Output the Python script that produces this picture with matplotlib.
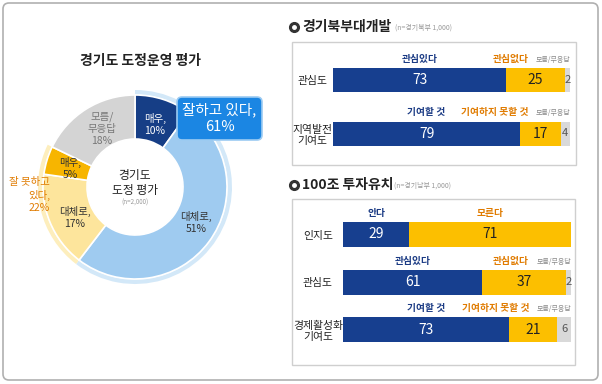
import matplotlib
matplotlib.use("Agg")
import matplotlib.pyplot as plt
from matplotlib.patches import FancyBboxPatch, Rectangle
import numpy as np

plt.rcParams['font.family'] = ['Noto Sans CJK KR', 'DejaVu Sans']

# ---------------- data ----------------
donut_labels = ["매우,\n10%", "대체로,\n51%", "대체로,\n17%", "매우,\n5%", "모름/\n무응답\n18%"]
donut_values = [10, 51, 17, 5, 18]
donut_groups = [2, 2, 1]          # 잘하고 있다(2 slices), 잘 못하고 있다(2), 모름(1)

north_cats = ["관심도", "지역발전\n기여도"]
north_pos = [73, 79]
north_neg = [25, 17]
north_dk = [2, 4]
north_pos_lbl = ["관심있다", "기여할 것"]
north_neg_lbl = ["관심없다", "기여하지 못할 것"]

south_cats = ["인지도", "관심도", "경제활성화\n기여도"]
south_pos = [29, 61, 73]
south_neg = [71, 37, 21]
south_dk = [0, 2, 6]
south_pos_lbl = ["안다", "관심있다", "기여할 것"]
south_neg_lbl = ["모른다", "관심없다", "기여하지 못할 것"]

NAVY = "#173f8f"
YEL = "#fcbf00"
GRAY = "#d9d9d9"
NAVY_T = "#1b3b84"
ORANGE_T = "#e07b00"

W, H = 602, 384
fig = plt.figure(figsize=(W / 100, H / 100), dpi=100)
bg = fig.add_axes([0, 0, 1, 1])
bg.set_xlim(0, W)
bg.set_ylim(H, 0)
bg.axis('off')

# outer frame
bg.add_patch(FancyBboxPatch((3, 3), 595, 377, boxstyle="round,pad=0,rounding_size=6",
                            fc="white", ec="#b0b0b0", lw=1.2))
# panels
bg.add_patch(Rectangle((292, 42), 284, 123, fc="white", ec="#cfcfcf", lw=1))
bg.add_patch(Rectangle((292, 199), 283, 166, fc="white", ec="#cfcfcf", lw=1))

# titles
bg.text(140, 61, "경기도 도정운영 평가", ha="center", va="center", fontsize=10,
        fontweight="bold", color="#222222")

for y, title, sub, subx in [(27, "경기북부대개발", "(n=경기북부 1,000)", 395),
                             (185, "100조 투자유치", "(n=경기남부 1,000)", 394)]:
    bg.plot([294], [y], marker="o", ms=7, color="#333333")
    bg.plot([294], [y], marker="o", ms=2.5, color="white")
    bg.text(302, y, title, ha="left", va="center", fontsize=10, fontweight="bold", color="#222222")
    bg.text(subx, y + 1, sub, ha="left", va="center", fontsize=5, color="#999999")

# ---------------- donut ----------------
pax = fig.add_axes([35 / W, 1 - 287 / H, 200 / W, 200 / H])
donut_colors = ["#163e86", "#9fcbf0", "#fde59c", "#f7b500", "#d4d4d4"]
group_vals = []
i = 0
for g in donut_groups:
    group_vals.append(sum(donut_values[i:i + g]))
    i += g
pax.pie(group_vals, radius=97, startangle=90, counterclock=False,
        colors=["#d3e8f8", "#fdeebd", "none"],
        wedgeprops=dict(width=4.5, edgecolor="none"))
pax.pie(donut_values, radius=92, startangle=90, counterclock=False,
        colors=donut_colors,
        wedgeprops=dict(width=44, edgecolor="white", linewidth=1.2))
pax.set_xlim(-100, 100)
pax.set_ylim(-100, 100)
pax.set_aspect("equal")
pax.axis("off")


# ---------------- bars ----------------
def bar_panel(rect, cats, pos, neg, dk, pos_lbl, neg_lbl, ylim, bh, pad, neg_off):
    ax = fig.add_axes(rect)
    n = len(cats)
    yy = np.arange(n)
    pos = np.array(pos, float)
    neg = np.array(neg, float)
    dk = np.array(dk, float)
    ax.barh(yy, pos, height=bh, color=NAVY)
    ax.barh(yy, neg, left=pos, height=bh, color=YEL)
    ax.barh(yy, dk, left=pos + neg, height=bh, color=GRAY)
    ax.set_xlim(0, 100)
    ax.set_ylim(*ylim)
    for s in ax.spines.values():
        s.set_visible(False)
    ax.set_xticks([])
    ax.set_yticks(yy)
    ax.set_yticklabels(cats, fontsize=7.8, color="#222222")
    ax.tick_params(axis="y", length=0, pad=pad)
    for lab in ax.get_yticklabels():
        lab.set_ha("center")
        lab.set_multialignment("center")
    ax.patch.set_alpha(0)
    top = -bh / 2
    for i in range(n):
        ax.text(pos[i] / 2, i, f"{int(pos[i])}", ha="center", va="center",
                fontsize=10, color="white")
        ax.text(pos[i] + neg[i] / 2, i, f"{int(neg[i])}", ha="center", va="center",
                fontsize=10, color="#222222")
        ax.text(pos[i] / 2, i + top - 0.08, pos_lbl[i], ha="center", va="bottom",
                fontsize=7, fontweight="bold", color=NAVY_T)
        if dk[i] > 0:
            ax.text(pos[i] + neg[i] + dk[i] / 2, i, f"{int(dk[i])}", ha="center",
                    va="center", fontsize=8, color="#555555")
            ax.text(100, i + top - 0.08, "모름/무응답", ha="right", va="bottom",
                    fontsize=5, color="#888888")
            ax.text(100 - neg_off, i + top - 0.08, neg_lbl[i], ha="right", va="bottom",
                    fontsize=7, fontweight="bold", color=ORANGE_T)
        else:
            ax.text(pos[i] + neg[i] / 2, i + top - 0.08, neg_lbl[i], ha="center",
                    va="bottom", fontsize=7, fontweight="bold", color=ORANGE_T)
    return ax


# panel 1: rows at y=80, 133.5 (spacing 53.5)
sp1 = 53.5
top1 = 80 - 0.6 * sp1
h1 = 2.2 * sp1
bar_panel([333 / W, 1 - (top1 + h1) / H, 237 / W, h1 / H], north_cats, north_pos, north_neg,
          north_dk, north_pos_lbl, north_neg_lbl, (1.6, -0.6), 24 / sp1, 15.1, 17.5)

# panel 2: rows at y=234.5, 282, 329.5 (spacing 47.5)
sp2 = 47.5
top2 = 234.5 - 0.7 * sp2
h2 = 3.4 * sp2
bar_panel([343 / W, 1 - (top2 + h2) / H, 228 / W, h2 / H], south_cats, south_pos, south_neg,
          south_dk, south_pos_lbl, south_neg_lbl, (2.7, -0.7), 25 / sp2, 18, 18.4)

# ---------------- overlay for donut labels ----------------
ov = fig.add_axes([0, 0, 1, 1])
ov.set_xlim(0, W)
ov.set_ylim(H, 0)
ov.axis('off')
ov.patch.set_alpha(0)

lbl_pos = [(155, 124), (196, 222), (75, 217), (70, 168), (102, 129)]
lbl_col = ["white", "#333333", "#333333", "#333333", "#777777"]
for (x, y), t, c in zip(lbl_pos, donut_labels, lbl_col):
    ov.text(x, y, t, ha="center", va="center", fontsize=7.5, color=c, linespacing=1.25)

ov.text(50, 195, "잘 못하고\n있다,\n22%", ha="right", va="center", fontsize=7.5,
        color=ORANGE_T, linespacing=1.25, multialignment="right")
ov.text(135, 183, "경기도\n도정 평가", ha="center", va="center", fontsize=8.5,
        color="#222222", linespacing=1.2)
ov.text(135, 203, "(n=2,000)", ha="center", va="center", fontsize=4.5, color="#999999")

ov.add_patch(FancyBboxPatch((177, 97), 85, 43, boxstyle="round,pad=0,rounding_size=5",
                            fc="#1b86e3", ec="#9ccbf2", lw=1.2, zorder=5))
ov.text(219.5, 118.5, "잘하고 있다,\n61%", ha="center", va="center", fontsize=10.5,
        color="white", linespacing=1.25, zorder=6)

fig.savefig("out.png", dpi=100)
